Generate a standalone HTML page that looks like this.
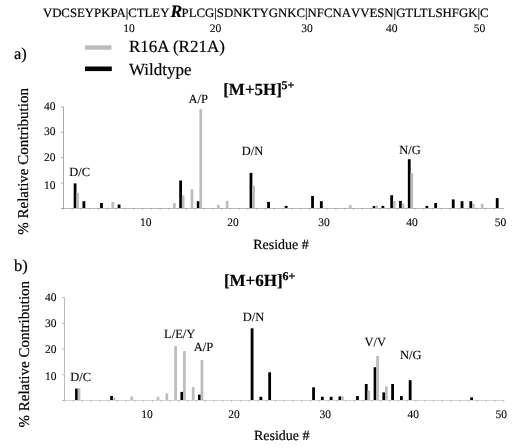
<!DOCTYPE html>
<html><head><meta charset="utf-8"><style>
html,body{margin:0;padding:0;background:#fff;width:524px;height:448px;overflow:hidden}
svg{display:block;will-change:transform;font-family:"Liberation Serif",serif;text-rendering:geometricPrecision}
text{stroke:#000;stroke-width:0.2px;stroke-linejoin:round}
text.an{stroke-width:0.1px}
text.tl{stroke-width:0.1px}
</style></head><body>
<svg width="524" height="448" viewBox="0 0 524 448" font-family="Liberation Serif" fill="#000">
<rect x="73.69" y="183.40" width="2.8" height="25.10" fill="#000"/>
<rect x="76.29" y="192.80" width="2.7" height="15.70" fill="#bcbcbc"/>
<rect x="82.48" y="201.20" width="2.8" height="7.30" fill="#000"/>
<rect x="100.07" y="203.00" width="2.8" height="5.50" fill="#000"/>
<rect x="111.47" y="201.90" width="2.7" height="6.60" fill="#bcbcbc"/>
<rect x="117.66" y="204.50" width="2.8" height="4.00" fill="#000"/>
<rect x="173.03" y="203.10" width="2.7" height="5.40" fill="#bcbcbc"/>
<rect x="179.22" y="180.50" width="2.8" height="28.00" fill="#000"/>
<rect x="181.82" y="195.40" width="2.7" height="13.10" fill="#bcbcbc"/>
<rect x="190.61" y="189.30" width="2.7" height="19.20" fill="#bcbcbc"/>
<rect x="196.81" y="201.20" width="2.8" height="7.30" fill="#000"/>
<rect x="199.41" y="109.10" width="2.7" height="99.40" fill="#bcbcbc"/>
<rect x="217.00" y="205.00" width="2.7" height="3.50" fill="#bcbcbc"/>
<rect x="225.79" y="200.90" width="2.7" height="7.60" fill="#bcbcbc"/>
<rect x="249.57" y="172.90" width="2.8" height="35.60" fill="#000"/>
<rect x="252.17" y="185.50" width="2.7" height="23.00" fill="#bcbcbc"/>
<rect x="267.16" y="201.90" width="2.8" height="6.60" fill="#000"/>
<rect x="284.75" y="205.90" width="2.8" height="2.60" fill="#000"/>
<rect x="311.13" y="196.00" width="2.8" height="12.50" fill="#000"/>
<rect x="319.92" y="201.20" width="2.8" height="7.30" fill="#000"/>
<rect x="348.91" y="205.10" width="2.7" height="3.40" fill="#bcbcbc"/>
<rect x="372.69" y="206.10" width="2.8" height="2.40" fill="#000"/>
<rect x="375.29" y="205.40" width="2.7" height="3.10" fill="#bcbcbc"/>
<rect x="381.48" y="205.90" width="2.8" height="2.60" fill="#000"/>
<rect x="390.28" y="195.20" width="2.8" height="13.30" fill="#000"/>
<rect x="392.88" y="200.90" width="2.7" height="7.60" fill="#bcbcbc"/>
<rect x="399.07" y="200.90" width="2.8" height="7.60" fill="#000"/>
<rect x="401.67" y="203.60" width="2.7" height="4.90" fill="#bcbcbc"/>
<rect x="407.86" y="159.20" width="2.8" height="49.30" fill="#000"/>
<rect x="410.46" y="173.20" width="2.7" height="35.30" fill="#bcbcbc"/>
<rect x="425.45" y="205.90" width="2.8" height="2.60" fill="#000"/>
<rect x="434.25" y="203.00" width="2.8" height="5.50" fill="#000"/>
<rect x="451.83" y="199.40" width="2.8" height="9.10" fill="#000"/>
<rect x="460.63" y="201.20" width="2.8" height="7.30" fill="#000"/>
<rect x="469.42" y="201.20" width="2.8" height="7.30" fill="#000"/>
<rect x="472.02" y="203.80" width="2.7" height="4.70" fill="#bcbcbc"/>
<rect x="480.82" y="203.80" width="2.7" height="4.70" fill="#bcbcbc"/>
<rect x="495.80" y="198.10" width="2.8" height="10.40" fill="#000"/>
<line x1="63.5" y1="106.80" x2="63.5" y2="208.5" stroke="#a8a8a8" stroke-width="1"/>
<line x1="63.0" y1="208.5" x2="503.00" y2="208.5" stroke="#b8b8b8" stroke-width="1"/>
<line x1="61.00" y1="208.50" x2="63.50" y2="208.50" stroke="#a8a8a8" stroke-width="1"/>
<line x1="61.00" y1="183.07" x2="63.50" y2="183.07" stroke="#a8a8a8" stroke-width="1"/>
<line x1="61.00" y1="157.65" x2="63.50" y2="157.65" stroke="#a8a8a8" stroke-width="1"/>
<line x1="61.00" y1="132.22" x2="63.50" y2="132.22" stroke="#a8a8a8" stroke-width="1"/>
<line x1="61.00" y1="106.80" x2="63.50" y2="106.80" stroke="#a8a8a8" stroke-width="1"/>
<line x1="63.30" y1="208.00" x2="63.30" y2="209.50" stroke="#999999" stroke-width="0.9"/>
<line x1="72.09" y1="208.00" x2="72.09" y2="209.50" stroke="#999999" stroke-width="0.9"/>
<line x1="80.89" y1="208.00" x2="80.89" y2="209.50" stroke="#999999" stroke-width="0.9"/>
<line x1="89.68" y1="208.00" x2="89.68" y2="209.50" stroke="#999999" stroke-width="0.9"/>
<line x1="98.48" y1="208.00" x2="98.48" y2="209.50" stroke="#999999" stroke-width="0.9"/>
<line x1="107.27" y1="208.00" x2="107.27" y2="209.50" stroke="#999999" stroke-width="0.9"/>
<line x1="116.06" y1="208.00" x2="116.06" y2="209.50" stroke="#999999" stroke-width="0.9"/>
<line x1="124.86" y1="208.00" x2="124.86" y2="209.50" stroke="#999999" stroke-width="0.9"/>
<line x1="133.65" y1="208.00" x2="133.65" y2="209.50" stroke="#999999" stroke-width="0.9"/>
<line x1="142.45" y1="208.00" x2="142.45" y2="209.50" stroke="#999999" stroke-width="0.9"/>
<line x1="151.24" y1="208.00" x2="151.24" y2="209.50" stroke="#999999" stroke-width="0.9"/>
<line x1="160.03" y1="208.00" x2="160.03" y2="209.50" stroke="#999999" stroke-width="0.9"/>
<line x1="168.83" y1="208.00" x2="168.83" y2="209.50" stroke="#999999" stroke-width="0.9"/>
<line x1="177.62" y1="208.00" x2="177.62" y2="209.50" stroke="#999999" stroke-width="0.9"/>
<line x1="186.42" y1="208.00" x2="186.42" y2="209.50" stroke="#999999" stroke-width="0.9"/>
<line x1="195.21" y1="208.00" x2="195.21" y2="209.50" stroke="#999999" stroke-width="0.9"/>
<line x1="204.00" y1="208.00" x2="204.00" y2="209.50" stroke="#999999" stroke-width="0.9"/>
<line x1="212.80" y1="208.00" x2="212.80" y2="209.50" stroke="#999999" stroke-width="0.9"/>
<line x1="221.59" y1="208.00" x2="221.59" y2="209.50" stroke="#999999" stroke-width="0.9"/>
<line x1="230.39" y1="208.00" x2="230.39" y2="209.50" stroke="#999999" stroke-width="0.9"/>
<line x1="239.18" y1="208.00" x2="239.18" y2="209.50" stroke="#999999" stroke-width="0.9"/>
<line x1="247.97" y1="208.00" x2="247.97" y2="209.50" stroke="#999999" stroke-width="0.9"/>
<line x1="256.77" y1="208.00" x2="256.77" y2="209.50" stroke="#999999" stroke-width="0.9"/>
<line x1="265.56" y1="208.00" x2="265.56" y2="209.50" stroke="#999999" stroke-width="0.9"/>
<line x1="274.36" y1="208.00" x2="274.36" y2="209.50" stroke="#999999" stroke-width="0.9"/>
<line x1="283.15" y1="208.00" x2="283.15" y2="209.50" stroke="#999999" stroke-width="0.9"/>
<line x1="291.94" y1="208.00" x2="291.94" y2="209.50" stroke="#999999" stroke-width="0.9"/>
<line x1="300.74" y1="208.00" x2="300.74" y2="209.50" stroke="#999999" stroke-width="0.9"/>
<line x1="309.53" y1="208.00" x2="309.53" y2="209.50" stroke="#999999" stroke-width="0.9"/>
<line x1="318.33" y1="208.00" x2="318.33" y2="209.50" stroke="#999999" stroke-width="0.9"/>
<line x1="327.12" y1="208.00" x2="327.12" y2="209.50" stroke="#999999" stroke-width="0.9"/>
<line x1="335.91" y1="208.00" x2="335.91" y2="209.50" stroke="#999999" stroke-width="0.9"/>
<line x1="344.71" y1="208.00" x2="344.71" y2="209.50" stroke="#999999" stroke-width="0.9"/>
<line x1="353.50" y1="208.00" x2="353.50" y2="209.50" stroke="#999999" stroke-width="0.9"/>
<line x1="362.30" y1="208.00" x2="362.30" y2="209.50" stroke="#999999" stroke-width="0.9"/>
<line x1="371.09" y1="208.00" x2="371.09" y2="209.50" stroke="#999999" stroke-width="0.9"/>
<line x1="379.88" y1="208.00" x2="379.88" y2="209.50" stroke="#999999" stroke-width="0.9"/>
<line x1="388.68" y1="208.00" x2="388.68" y2="209.50" stroke="#999999" stroke-width="0.9"/>
<line x1="397.47" y1="208.00" x2="397.47" y2="209.50" stroke="#999999" stroke-width="0.9"/>
<line x1="406.27" y1="208.00" x2="406.27" y2="209.50" stroke="#999999" stroke-width="0.9"/>
<line x1="415.06" y1="208.00" x2="415.06" y2="209.50" stroke="#999999" stroke-width="0.9"/>
<line x1="423.85" y1="208.00" x2="423.85" y2="209.50" stroke="#999999" stroke-width="0.9"/>
<line x1="432.65" y1="208.00" x2="432.65" y2="209.50" stroke="#999999" stroke-width="0.9"/>
<line x1="441.44" y1="208.00" x2="441.44" y2="209.50" stroke="#999999" stroke-width="0.9"/>
<line x1="450.24" y1="208.00" x2="450.24" y2="209.50" stroke="#999999" stroke-width="0.9"/>
<line x1="459.03" y1="208.00" x2="459.03" y2="209.50" stroke="#999999" stroke-width="0.9"/>
<line x1="467.82" y1="208.00" x2="467.82" y2="209.50" stroke="#999999" stroke-width="0.9"/>
<line x1="476.62" y1="208.00" x2="476.62" y2="209.50" stroke="#999999" stroke-width="0.9"/>
<line x1="485.41" y1="208.00" x2="485.41" y2="209.50" stroke="#999999" stroke-width="0.9"/>
<line x1="494.21" y1="208.00" x2="494.21" y2="209.50" stroke="#999999" stroke-width="0.9"/>
<line x1="503.00" y1="208.00" x2="503.00" y2="209.50" stroke="#999999" stroke-width="0.9"/>
<rect x="75.07" y="388.60" width="2.8" height="11.90" fill="#000"/>
<rect x="77.67" y="388.30" width="2.7" height="12.20" fill="#bcbcbc"/>
<rect x="110.20" y="395.90" width="2.8" height="4.60" fill="#000"/>
<rect x="112.80" y="397.80" width="2.7" height="2.70" fill="#bcbcbc"/>
<rect x="130.36" y="396.40" width="2.7" height="4.10" fill="#bcbcbc"/>
<rect x="156.70" y="396.80" width="2.7" height="3.70" fill="#bcbcbc"/>
<rect x="165.48" y="393.50" width="2.7" height="7.00" fill="#bcbcbc"/>
<rect x="174.26" y="346.00" width="2.7" height="54.50" fill="#bcbcbc"/>
<rect x="180.44" y="391.90" width="2.8" height="8.60" fill="#000"/>
<rect x="183.04" y="351.10" width="2.7" height="49.40" fill="#bcbcbc"/>
<rect x="191.82" y="387.10" width="2.7" height="13.40" fill="#bcbcbc"/>
<rect x="198.01" y="394.60" width="2.8" height="5.90" fill="#000"/>
<rect x="200.61" y="360.00" width="2.7" height="40.50" fill="#bcbcbc"/>
<rect x="250.69" y="328.30" width="2.8" height="72.20" fill="#000"/>
<rect x="259.47" y="396.80" width="2.8" height="3.70" fill="#000"/>
<rect x="268.25" y="372.30" width="2.8" height="28.20" fill="#000"/>
<rect x="312.16" y="387.30" width="2.8" height="13.20" fill="#000"/>
<rect x="320.94" y="396.80" width="2.8" height="3.70" fill="#000"/>
<rect x="329.72" y="396.80" width="2.8" height="3.70" fill="#000"/>
<rect x="338.50" y="396.40" width="2.8" height="4.10" fill="#000"/>
<rect x="341.10" y="396.40" width="2.7" height="4.10" fill="#bcbcbc"/>
<rect x="356.06" y="396.10" width="2.8" height="4.40" fill="#000"/>
<rect x="364.84" y="384.00" width="2.8" height="16.50" fill="#000"/>
<rect x="367.44" y="390.60" width="2.7" height="9.90" fill="#bcbcbc"/>
<rect x="373.63" y="367.20" width="2.8" height="33.30" fill="#000"/>
<rect x="376.23" y="356.00" width="2.7" height="44.50" fill="#bcbcbc"/>
<rect x="382.41" y="392.40" width="2.8" height="8.10" fill="#000"/>
<rect x="385.01" y="386.40" width="2.7" height="14.10" fill="#bcbcbc"/>
<rect x="391.19" y="384.00" width="2.8" height="16.50" fill="#000"/>
<rect x="399.97" y="396.10" width="2.8" height="4.40" fill="#000"/>
<rect x="408.75" y="380.20" width="2.8" height="20.30" fill="#000"/>
<rect x="470.22" y="397.40" width="2.8" height="3.10" fill="#000"/>
<line x1="64.5" y1="297.60" x2="64.5" y2="400.5" stroke="#bbbbbb" stroke-width="1"/>
<line x1="64.0" y1="400.5" x2="503.75" y2="400.5" stroke="#d4d4d4" stroke-width="1"/>
<line x1="62.00" y1="400.50" x2="64.50" y2="400.50" stroke="#bbbbbb" stroke-width="1"/>
<line x1="62.00" y1="374.77" x2="64.50" y2="374.77" stroke="#bbbbbb" stroke-width="1"/>
<line x1="62.00" y1="349.05" x2="64.50" y2="349.05" stroke="#bbbbbb" stroke-width="1"/>
<line x1="62.00" y1="323.33" x2="64.50" y2="323.33" stroke="#bbbbbb" stroke-width="1"/>
<line x1="62.00" y1="297.60" x2="64.50" y2="297.60" stroke="#bbbbbb" stroke-width="1"/>
<line x1="64.70" y1="400.00" x2="64.70" y2="401.50" stroke="#aaaaaa" stroke-width="0.9"/>
<line x1="73.48" y1="400.00" x2="73.48" y2="401.50" stroke="#aaaaaa" stroke-width="0.9"/>
<line x1="82.26" y1="400.00" x2="82.26" y2="401.50" stroke="#aaaaaa" stroke-width="0.9"/>
<line x1="91.04" y1="400.00" x2="91.04" y2="401.50" stroke="#aaaaaa" stroke-width="0.9"/>
<line x1="99.82" y1="400.00" x2="99.82" y2="401.50" stroke="#aaaaaa" stroke-width="0.9"/>
<line x1="108.61" y1="400.00" x2="108.61" y2="401.50" stroke="#aaaaaa" stroke-width="0.9"/>
<line x1="117.39" y1="400.00" x2="117.39" y2="401.50" stroke="#aaaaaa" stroke-width="0.9"/>
<line x1="126.17" y1="400.00" x2="126.17" y2="401.50" stroke="#aaaaaa" stroke-width="0.9"/>
<line x1="134.95" y1="400.00" x2="134.95" y2="401.50" stroke="#aaaaaa" stroke-width="0.9"/>
<line x1="143.73" y1="400.00" x2="143.73" y2="401.50" stroke="#aaaaaa" stroke-width="0.9"/>
<line x1="152.51" y1="400.00" x2="152.51" y2="401.50" stroke="#aaaaaa" stroke-width="0.9"/>
<line x1="161.29" y1="400.00" x2="161.29" y2="401.50" stroke="#aaaaaa" stroke-width="0.9"/>
<line x1="170.07" y1="400.00" x2="170.07" y2="401.50" stroke="#aaaaaa" stroke-width="0.9"/>
<line x1="178.85" y1="400.00" x2="178.85" y2="401.50" stroke="#aaaaaa" stroke-width="0.9"/>
<line x1="187.63" y1="400.00" x2="187.63" y2="401.50" stroke="#aaaaaa" stroke-width="0.9"/>
<line x1="196.42" y1="400.00" x2="196.42" y2="401.50" stroke="#aaaaaa" stroke-width="0.9"/>
<line x1="205.20" y1="400.00" x2="205.20" y2="401.50" stroke="#aaaaaa" stroke-width="0.9"/>
<line x1="213.98" y1="400.00" x2="213.98" y2="401.50" stroke="#aaaaaa" stroke-width="0.9"/>
<line x1="222.76" y1="400.00" x2="222.76" y2="401.50" stroke="#aaaaaa" stroke-width="0.9"/>
<line x1="231.54" y1="400.00" x2="231.54" y2="401.50" stroke="#aaaaaa" stroke-width="0.9"/>
<line x1="240.32" y1="400.00" x2="240.32" y2="401.50" stroke="#aaaaaa" stroke-width="0.9"/>
<line x1="249.10" y1="400.00" x2="249.10" y2="401.50" stroke="#aaaaaa" stroke-width="0.9"/>
<line x1="257.88" y1="400.00" x2="257.88" y2="401.50" stroke="#aaaaaa" stroke-width="0.9"/>
<line x1="266.66" y1="400.00" x2="266.66" y2="401.50" stroke="#aaaaaa" stroke-width="0.9"/>
<line x1="275.44" y1="400.00" x2="275.44" y2="401.50" stroke="#aaaaaa" stroke-width="0.9"/>
<line x1="284.23" y1="400.00" x2="284.23" y2="401.50" stroke="#aaaaaa" stroke-width="0.9"/>
<line x1="293.01" y1="400.00" x2="293.01" y2="401.50" stroke="#aaaaaa" stroke-width="0.9"/>
<line x1="301.79" y1="400.00" x2="301.79" y2="401.50" stroke="#aaaaaa" stroke-width="0.9"/>
<line x1="310.57" y1="400.00" x2="310.57" y2="401.50" stroke="#aaaaaa" stroke-width="0.9"/>
<line x1="319.35" y1="400.00" x2="319.35" y2="401.50" stroke="#aaaaaa" stroke-width="0.9"/>
<line x1="328.13" y1="400.00" x2="328.13" y2="401.50" stroke="#aaaaaa" stroke-width="0.9"/>
<line x1="336.91" y1="400.00" x2="336.91" y2="401.50" stroke="#aaaaaa" stroke-width="0.9"/>
<line x1="345.69" y1="400.00" x2="345.69" y2="401.50" stroke="#aaaaaa" stroke-width="0.9"/>
<line x1="354.47" y1="400.00" x2="354.47" y2="401.50" stroke="#aaaaaa" stroke-width="0.9"/>
<line x1="363.25" y1="400.00" x2="363.25" y2="401.50" stroke="#aaaaaa" stroke-width="0.9"/>
<line x1="372.04" y1="400.00" x2="372.04" y2="401.50" stroke="#aaaaaa" stroke-width="0.9"/>
<line x1="380.82" y1="400.00" x2="380.82" y2="401.50" stroke="#aaaaaa" stroke-width="0.9"/>
<line x1="389.60" y1="400.00" x2="389.60" y2="401.50" stroke="#aaaaaa" stroke-width="0.9"/>
<line x1="398.38" y1="400.00" x2="398.38" y2="401.50" stroke="#aaaaaa" stroke-width="0.9"/>
<line x1="407.16" y1="400.00" x2="407.16" y2="401.50" stroke="#aaaaaa" stroke-width="0.9"/>
<line x1="415.94" y1="400.00" x2="415.94" y2="401.50" stroke="#aaaaaa" stroke-width="0.9"/>
<line x1="424.72" y1="400.00" x2="424.72" y2="401.50" stroke="#aaaaaa" stroke-width="0.9"/>
<line x1="433.50" y1="400.00" x2="433.50" y2="401.50" stroke="#aaaaaa" stroke-width="0.9"/>
<line x1="442.28" y1="400.00" x2="442.28" y2="401.50" stroke="#aaaaaa" stroke-width="0.9"/>
<line x1="451.06" y1="400.00" x2="451.06" y2="401.50" stroke="#aaaaaa" stroke-width="0.9"/>
<line x1="459.85" y1="400.00" x2="459.85" y2="401.50" stroke="#aaaaaa" stroke-width="0.9"/>
<line x1="468.63" y1="400.00" x2="468.63" y2="401.50" stroke="#aaaaaa" stroke-width="0.9"/>
<line x1="477.41" y1="400.00" x2="477.41" y2="401.50" stroke="#aaaaaa" stroke-width="0.9"/>
<line x1="486.19" y1="400.00" x2="486.19" y2="401.50" stroke="#aaaaaa" stroke-width="0.9"/>
<line x1="494.97" y1="400.00" x2="494.97" y2="401.50" stroke="#aaaaaa" stroke-width="0.9"/>
<line x1="503.75" y1="400.00" x2="503.75" y2="401.50" stroke="#aaaaaa" stroke-width="0.9"/>
<text x="42.9" y="16.5" font-size="12.8">VDCSEYPKPA|CTLEY<tspan font-size="17.5" font-weight="bold" font-style="italic" dx="1">R</tspan><tspan dx="-0.6">P</tspan>LCG|SDNKTYGNKC|NFCN<tspan style="font-kerning:none">AVV</tspan>ESN|GTLTLSHFGK|C</text>
<text class="tl" x="128.9" y="32.3" font-size="11.5" text-anchor="middle">10</text>
<text class="tl" x="215.4" y="32.3" font-size="11.5" text-anchor="middle">20</text>
<text class="tl" x="307" y="32.3" font-size="11.5" text-anchor="middle">30</text>
<text class="tl" x="391.8" y="32.3" font-size="11.5" text-anchor="middle">40</text>
<text class="tl" x="479.4" y="32.3" font-size="11.5" text-anchor="middle">50</text>
<text x="14.0" y="59.1" font-size="16.5" text-anchor="start" font-weight="normal" font-style="normal" >a)</text>
<text x="14.0" y="270.6" font-size="16.5" text-anchor="start" font-weight="normal" font-style="normal" >b)</text>
<rect x="85" y="45.3" width="26.5" height="4.5" fill="#bcbcbc"/>
<rect x="85" y="66.5" width="26.8" height="4.6" fill="#000"/>
<text x="129.0" y="51.7" font-size="17" text-anchor="start" font-weight="normal" font-style="normal" >R16A (R21A)</text>
<text x="129.0" y="75.0" font-size="17" text-anchor="start" font-weight="normal" font-style="normal" >Wildtype</text>
<text x="223.2" y="94.9" font-size="17" font-weight="bold">[M+5H]<tspan font-size="12" dx="-0.6" dy="-6.2">5+</tspan></text>
<text x="223.9" y="286.2" font-size="17" font-weight="bold">[M+6H]<tspan font-size="12" dx="-0.3" dy="-6.2">6+</tspan></text>
<text transform="translate(28.3,161.4) rotate(-90)" font-size="15" text-anchor="middle">% Relative Contribution</text>
<text transform="translate(29.0,354.2) rotate(-90)" font-size="15" text-anchor="middle">% Relative Contribution</text>
<text class="tl" x="55.6" y="109.5" font-size="11.5" text-anchor="end">40</text>
<text class="tl" x="55.6" y="134.9" font-size="11.5" text-anchor="end">30</text>
<text class="tl" x="55.6" y="160.70000000000002" font-size="11.5" text-anchor="end">20</text>
<text class="tl" x="55.6" y="188.70000000000002" font-size="11.5" text-anchor="end">10</text>
<text class="tl" x="56.6" y="301.4" font-size="11.5" text-anchor="end">40</text>
<text class="tl" x="56.6" y="327.09999999999997" font-size="11.5" text-anchor="end">30</text>
<text class="tl" x="56.6" y="352.7" font-size="11.5" text-anchor="end">20</text>
<text class="tl" x="56.6" y="380.09999999999997" font-size="11.5" text-anchor="end">10</text>
<text class="tl" x="145.8" y="226.0" font-size="11.5" text-anchor="middle">10</text>
<text class="tl" x="233.1" y="226.0" font-size="11.5" text-anchor="middle">20</text>
<text class="tl" x="324" y="226.0" font-size="11.5" text-anchor="middle">30</text>
<text class="tl" x="412" y="226.0" font-size="11.5" text-anchor="middle">40</text>
<text class="tl" x="500.4" y="226.0" font-size="11.5" text-anchor="middle">50</text>
<text class="tl" x="146.9" y="418.0" font-size="11.5" text-anchor="middle">10</text>
<text class="tl" x="234" y="418.0" font-size="11.5" text-anchor="middle">20</text>
<text class="tl" x="325.2" y="418.0" font-size="11.5" text-anchor="middle">30</text>
<text class="tl" x="413.2" y="418.0" font-size="11.5" text-anchor="middle">40</text>
<text class="tl" x="501.3" y="418.0" font-size="11.5" text-anchor="middle">50</text>
<text x="281.0" y="248.9" font-size="14" text-anchor="middle" font-weight="normal" font-style="normal" >Residue #</text>
<text x="281.8" y="440.2" font-size="14" text-anchor="middle" font-weight="normal" font-style="normal" >Residue #</text>
<text class="an" x="69.3" y="175.5" font-size="12.5">D/C</text>
<text class="an" x="188.5" y="102.9" font-size="12.5">A/P</text>
<text class="an" x="241.7" y="154.8" font-size="12.5">D/N</text>
<text class="an" x="399.3" y="154.3" font-size="12.5">N/G</text>
<text class="an" x="70.2" y="380.5" font-size="12.5">D/C</text>
<text class="an" x="164.1" y="337.6" font-size="12.5">L/E/Y</text>
<text class="an" x="193.8" y="351" font-size="12.5">A/P</text>
<text class="an" x="242.8" y="320.7" font-size="12.5">D/N</text>
<text class="an" x="364.5" y="345.7" font-size="12.5">V/V</text>
<text class="an" x="400.1" y="359.4" font-size="12.5">N/G</text>
</svg>
</body></html>
